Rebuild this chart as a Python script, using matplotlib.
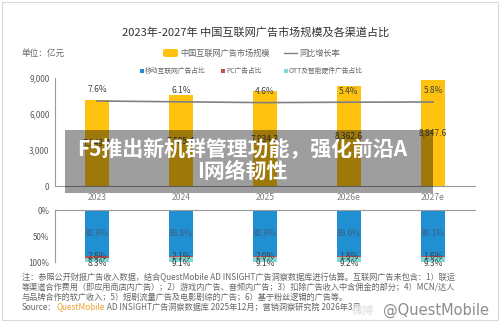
import matplotlib
matplotlib.use("Agg")
import matplotlib.pyplot as plt
from matplotlib.patches import Rectangle, FancyBboxPatch
from matplotlib.lines import Line2D

plt.rcParams['font.family'] = ['Noto Sans CJK SC', 'DejaVu Sans']

# ---- data ----
years = ["2023", "2024", "2025", "2026e", "2027e"]
market_size = [7149.3, 7585.4, 7934.3, 8362.6, 8847.6]
growth = [7.6, 6.1, 4.6, 5.4, 5.8]
mobile_share = [88.9, 88.8, 88.9, 89.0, 89.1]
pc_share = [2.8, 2.1, 2.0, 1.8, 1.6]
ott_share = [8.3, 9.1, 9.1, 9.2, 9.3]
size_ticks = [0, 3000, 6000, 9000]
share_ticks = [0, 50, 100]

title = "2023年-2027年 中国互联网广告市场规模及各渠道占比"
unit = "单位：亿元"
notes = [
    "注：参照公开财报广告收入数据，结合QuestMobile AD INSIGHT广告洞察数据库进行估算。互联网广告未包含：1）联运",
    "等渠道合作费用（即应用商店内广告）；2）游戏内广告、音频内广告；3）扣除广告收入中含佣金的部分；4）MCN/达人",
    "与品牌合作的软广收入；5）短剧流量广告及电影剧综的广告；6）基于粉丝逻辑的广告等。",
]
overlay_text = "F5推出新机群管理功能，强化前沿A\nI网络韧性"

W, H = 500, 323
fig = plt.figure(figsize=(W / 100, H / 100), dpi=100)
fig.patch.set_facecolor("white")

def fx(px):
    return px / W

def fy(py):
    return 1 - py / H

YELLOW = "#FFC20E"
BLUE = "#2190D2"
RED = "#C0504D"
TEAL = "#7FD9D6"
AXC = "#9a9a9a"
TXT = "#595959"

# panel border
fig.add_artist(Rectangle((fx(2), fy(320)), fx(496), 318 / H, transform=fig.transFigure,
                         fill=False, edgecolor="#d9d9d9", lw=0.8))

# ---- top axes ----
ax = fig.add_axes([fx(55), fy(186), fx(420), 108 / H])
x = list(range(len(years)))
bars = ax.bar(x, market_size, width=0.29, color=YELLOW, zorder=2)
ax.set_xlim(-0.5, 4.5)
ax.set_ylim(0, 9000)
ax.set_yticks(size_ticks)
ax.set_yticklabels([f"{v:,}" for v in size_ticks], fontsize=5.8, color=TXT)
ax.set_xticks(x)
ax.set_xticklabels(years, fontsize=6.2, color="#7f7f7f")
ax.tick_params(axis="both", length=0, pad=4)
ax.tick_params(axis="x", pad=5)
for s in ["top", "right"]:
    ax.spines[s].set_visible(False)
ax.spines["left"].set_color(AXC)
ax.spines["bottom"].set_color(AXC)
ax.spines["left"].set_linewidth(0.8)
ax.spines["bottom"].set_linewidth(0.8)
ax.bar_label(bars, labels=[f"{v:,.1f}" for v in market_size], label_type="center",
             fontsize=6, color="#404040")

ax2 = ax.twinx()
ax2.set_ylim(-149.8, 50.2)
ax2.plot(x, growth, color="#808080", lw=1.2, zorder=3)
ax2.axis("off")
for i, g in enumerate(growth):
    ax2.annotate(f"{g}%", (i, g), xytext=(0, 8), textcoords="offset points",
                 ha="center", va="center", fontsize=6, color="#404040")

# ---- bottom axes ----
bx = fig.add_axes([fx(55), fy(262), fx(420), 52 / H])
bw = 0.29
b1 = bx.bar(x, mobile_share, width=bw, color=BLUE)
b2 = bx.bar(x, pc_share, width=bw, bottom=mobile_share, color=RED)
bottoms3 = [m + p for m, p in zip(mobile_share, pc_share)]
b3 = bx.bar(x, ott_share, width=bw, bottom=bottoms3, color=TEAL)
bx.set_xlim(-0.5, 4.5)
bx.set_ylim(100, 0)
bx.set_yticks(share_ticks)
bx.set_yticklabels([f"{v}%" for v in share_ticks], fontsize=5.8, color=TXT)
bx.set_xticks([])
bx.tick_params(axis="y", length=0, pad=4)
for s in ["bottom", "right"]:
    bx.spines[s].set_visible(False)
bx.spines["left"].set_color(AXC)
bx.spines["top"].set_color(AXC)
bx.spines["left"].set_linewidth(0.8)
bx.spines["top"].set_linewidth(0.8)
for i in x:
    bx.text(i, mobile_share[i] / 2, f"{mobile_share[i]}%", ha="center", va="center",
            fontsize=6, color="#3b5f86")
    bx.text(i, mobile_share[i] + pc_share[i] / 2, f"{pc_share[i]}%", ha="center",
            va="center", fontsize=6, color="#404040")
    bx.annotate(f"{ott_share[i]}%", (i, 100), xytext=(0, -1), textcoords="offset points",
                ha="center", va="center", fontsize=6, color="#404040")

# ---- titles / legends ----
fig.text(fx(256), fy(32), title, ha="center", va="center", fontsize=8, color="#333333")
fig.text(fx(22), fy(53), unit, ha="left", va="center", fontsize=6.2, color="#666666")

fig.add_artist(FancyBboxPatch((fx(163), fy(57)), fx(15), 8 / H,
                              boxstyle="round,pad=0,rounding_size=0.005",
                              transform=fig.transFigure, color=YELLOW, lw=0))
fig.text(fx(180), fy(53), "中国互联网广告市场规模", ha="left", va="center", fontsize=5.9, color="#666666")
fig.add_artist(Line2D([fx(284), fx(297)], [fy(53), fy(53)], transform=fig.transFigure,
                      color="#808080", lw=1.0))
fig.text(fx(299), fy(53), "同比增长率", ha="left", va="center", fontsize=5.9, color="#666666")

leg2 = [("移动互联网广告占比", BLUE, 140), ("PC广告占比", RED, 221), ("OTT及智能硬件广告占比", TEAL, 284)]
for label, col, px in leg2:
    fig.add_artist(Rectangle((fx(px), fy(73)), fx(3.5), 3.5 / H, transform=fig.transFigure,
                             color=col, lw=0))
    fig.text(fx(px + 5), fy(71), label, ha="left", va="center", fontsize=4.9, color="#666666")

# ---- footnotes ----
for k, line in enumerate(notes):
    fig.text(fx(22), fy(277 + 10 * k), line, ha="left", va="center", fontsize=5.9, color="#666666")
t1 = fig.text(fx(22), fy(307), "Source：", ha="left", va="center", fontsize=5.9, color="#666666")
t2 = fig.text(0, 0, "QuestMobile", fontsize=5.9, color="#F0A030", ha="left", va="bottom")
t2.set_position((0, 0))
t2.remove()
a2 = fig.text(0, 0, "")
a2.remove()
an2 = plt.annotate("QuestMobile", xy=(1, 0), xycoords=t1, ha="left", va="bottom",
                   fontsize=5.9, color="#F0A030", annotation_clip=False)
an3 = plt.annotate(" AD INSIGHT广告洞察数据库 2025年12月；营销洞察研究院 2026年3月", xy=(1, 0), xycoords=an2,
                   ha="left", va="bottom", fontsize=5.9, color="#666666", annotation_clip=False)
for a in (an2, an3):
    a.remove()
    fig.add_artist(a)

fig.text(fx(352), fy(310), "微博", ha="left", va="center", fontsize=8, color="#e6e6e6",
         fontweight="bold", style="italic")
fig.text(fx(383), fy(310), "@QuestMobile", ha="left", va="center", fontsize=10.5,
         color="#8c8c8c", family=["DejaVu Sans"])

# ---- overlay caption ----
fig.add_artist(Rectangle((fx(65), fy(193)), fx(368), 63 / H, transform=fig.transFigure,
                         color="black", alpha=0.38, lw=0, zorder=10))
fig.text(fx(242), fy(160), overlay_text, ha="center", va="center", fontsize=15,
         color="white", fontweight="bold", linespacing=1.05, zorder=11)

fig.savefig("out.png", dpi=100)
